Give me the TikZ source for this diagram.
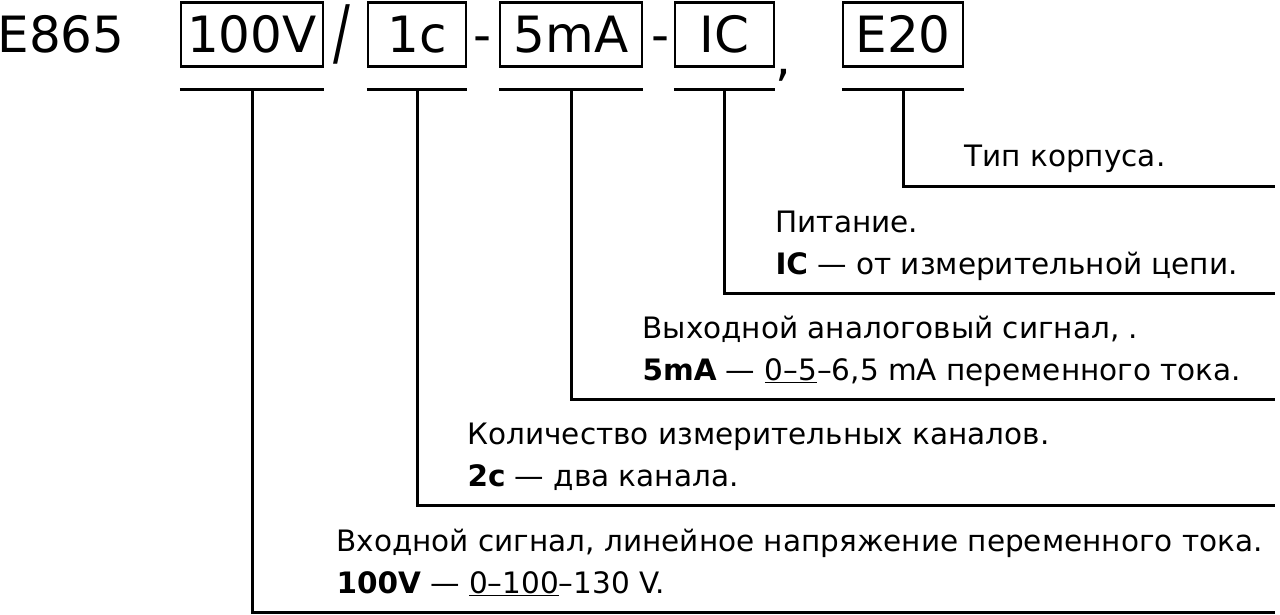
\documentclass[tikz,border=0pt]{standalone}
\usepackage{fontspec}
\setmainfont{DejaVu Sans}
\usetikzlibrary{positioning, calc}

\begin{document}
\begin{tikzpicture}[x=1pt, y=-1pt, line width=3pt,
    every node/.style={inner sep=0pt},
    code/.style={draw, line width=2.5pt, minimum height=64pt, font=\fontsize{50}{50}\selectfont},
    sign/.style={anchor=base, font=\fontsize{50}{50}\selectfont},
    note/.style={anchor=base west, font=\fontsize{29.5}{34}\selectfont}]
    \useasboundingbox (0,0) rectangle (1280,615);
    % designation
    \node[anchor=base west] (model) [font=\fontsize{50}{50}\selectfont] at (-4,53) {E865};
    \node[sign, yscale=1.45] (slash) at (342,58) {/};
    \node[code, minimum width=142pt] (volt) at (252,34.5) {100V};
    \node[code, minimum width=98pt] (chan) at (417,34.5) {1c};
    \node[sign] (dashA) at (483,53) {-};
    \node[code, minimum width=142pt] (outp) at (571,34.5) {5mA};
    \node[sign] (dashB) at (661,53) {-};
    \node[code, minimum width=99pt] (supply) at (724.5,34.5) {IC};
    \node[sign] (comma) at (783,76) {,};
    \node[code, minimum width=120pt] (hous) at (903,34.5) {E20};
    % underlines
    \foreach \n in {volt, chan, outp, supply, hous}
        \draw (\n.west |- 0,90) -- (\n.east |- 0,90);
    % leader ends
    \coordinate (voltU) at (volt.south |- 0,90);
    \coordinate (chanU) at (chan.south |- 0,90);
    \coordinate (outpU) at (outp.south |- 0,90);
    \coordinate (supplyU) at (supply.south |- 0,90);
    \coordinate (housU) at (hous.south |- 0,90);
    \coordinate (voltE) at (1275,612);
    \coordinate (chanE) at (1275,505);
    \coordinate (outpE) at (1275,399);
    \coordinate (supplyE) at (1275,293);
    \coordinate (housE) at (1275,186);
    \draw (voltU) |- (voltE);
    \draw (chanU) |- (chanE);
    \draw (outpU) |- (outpE);
    \draw (supplyU) |- (supplyE);
    \draw (housU) |- (housE);
    % notes
    \node[note] (housT) at (963,167) {Тип корпуса.};
    \node[note] (supplyT) at (774,232) {Питание.};
    \node[note] (supplyV) at (774,274) {\textbf{IC} — от измерительной цепи.};
    \node[note] (outpT) at (641,338) {Выходной аналоговый сигнал, .};
    \node[note] (outpV) at (641,380) {\textbf{5mA} — \underline{0–5}–6,5 mA переменного тока.};
    \node[note] (chanT) at (466,444) {Количество измерительных каналов.};
    \node[note] (chanV) at (466,486) {\textbf{2c} — два канала.};
    \node[note] (voltT) at (335,551) {Входной сигнал, линейное напряжение переменного тока.};
    \node[note] (voltV) at (335,593) {\textbf{100V} — \underline{0–100}–130 V.};
\end{tikzpicture}
\end{document}
